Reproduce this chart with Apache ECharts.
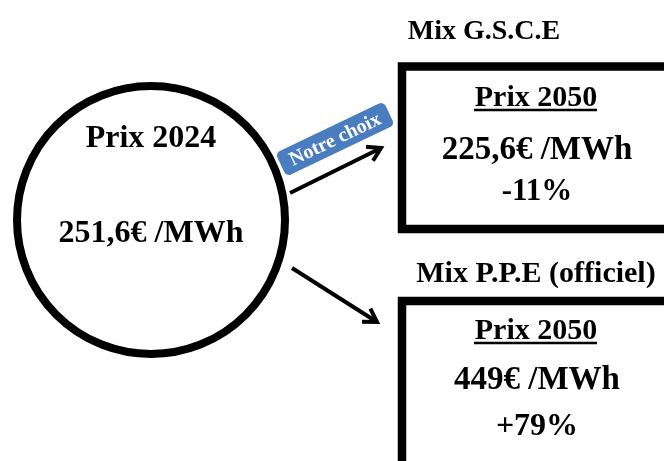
<!DOCTYPE html>
<html>
<head>
<meta charset="utf-8">
<script src="https://cdn.jsdelivr.net/npm/echarts@6/dist/echarts.min.js"></script>
<style>html,body{margin:0;padding:0;background:#fff;}#c{width:664px;height:461px;}</style>
</head>
<body>
<div id="c"></div>
<script>
var currentLabel = ["Prix 2024", "251,6€ /MWh"];
var mixTitles = ["Mix G.S.C.E", "Mix P.P.E (officiel)"];
var priceTitles = ["Prix 2050", "Prix 2050"];
var prices = ["225,6€ /MWh", "449€ /MWh"];
var changes = ["-11%", "+79%"];
var badgeText = "Notre choix";

var FF = '"Liberation Serif", "DejaVu Serif", serif';
function txt(t, x, y, size, color) {
  return { type: 'text', style: { text: t, x: x, y: y, fill: color || '#000', font: 'bold ' + size + 'px ' + FF, textAlign: 'center', textVerticalAlign: 'middle' }, z: 10 };
}
function arrow(x1, y1, x2, y2) {
  var a = Math.atan2(y2 - y1, x2 - x1), L = 15, sp = 0.55;
  return [
    { type: 'line', shape: { x1: x1, y1: y1, x2: x2, y2: y2 }, style: { stroke: '#000', lineWidth: 4 } },
    { type: 'polyline', shape: { points: [
      [x2 - L * Math.cos(a - sp), y2 - L * Math.sin(a - sp)], [x2, y2],
      [x2 - L * Math.cos(a + sp), y2 - L * Math.sin(a + sp)]] },
      style: { stroke: '#000', lineWidth: 4, fill: null, lineJoin: 'miter' } }
  ];
}

var g = [];
// circle
g.push({ type: 'circle', shape: { cx: 151, cy: 220, r: 134 }, style: { fill: '#fff', stroke: '#000', lineWidth: 8 } });
g.push(txt(currentLabel[0], 151, 139, 32));
g.push(txt(currentLabel[1], 151, 234, 32));

// boxes
var boxY = [66.5, 301];
var boxH = [162.5, 300];
var headY = [32, 274];
var headX = [484, 536];
var headSize = [28, 30];
var underY = [110, 343];
var priceY = [150, 380];
var changeY = [192, 427];
var changeSize = [31, 32];
for (var i = 0; i < 2; i++) {
  g.push({ type: 'rect', shape: { x: 402, y: boxY[i], width: 320, height: boxH[i] }, style: { fill: '#fff', stroke: '#000', lineWidth: 8.5 } });
  g.push(txt(mixTitles[i], headX[i], headY[i], headSize[i]));
  g.push(txt(priceTitles[i], 536, underY[i] - 12, 30));
  g.push({ type: 'line', shape: { x1: 474, y1: underY[i], x2: 597, y2: underY[i] }, style: { stroke: '#000', lineWidth: 2.5 }, z: 10 });
  g.push(txt(prices[i], 537, priceY[i], 33));
  g.push(txt(changes[i], 537, changeY[i], changeSize[i]));
}

// arrows
g = g.concat(arrow(290, 193, 381, 148));
g = g.concat(arrow(292, 268, 377, 322));

// badge
g.push({
  type: 'group', x: 335, y: 139, rotation: 25.5 * Math.PI / 180, z: 20,
  children: [
    { type: 'rect', shape: { x: -60, y: -13, width: 120, height: 26, r: 5 }, style: { fill: '#4a7dc0' } },
    { type: 'text', style: { text: badgeText, x: 0, y: 1, fill: '#fff', font: 'bold 20px ' + FF, textAlign: 'center', textVerticalAlign: 'middle' } }
  ]
});

var chart = echarts.init(document.getElementById('c'));
chart.setOption({ backgroundColor: '#fff', graphic: { elements: g } });
</script>
</body>
</html>
